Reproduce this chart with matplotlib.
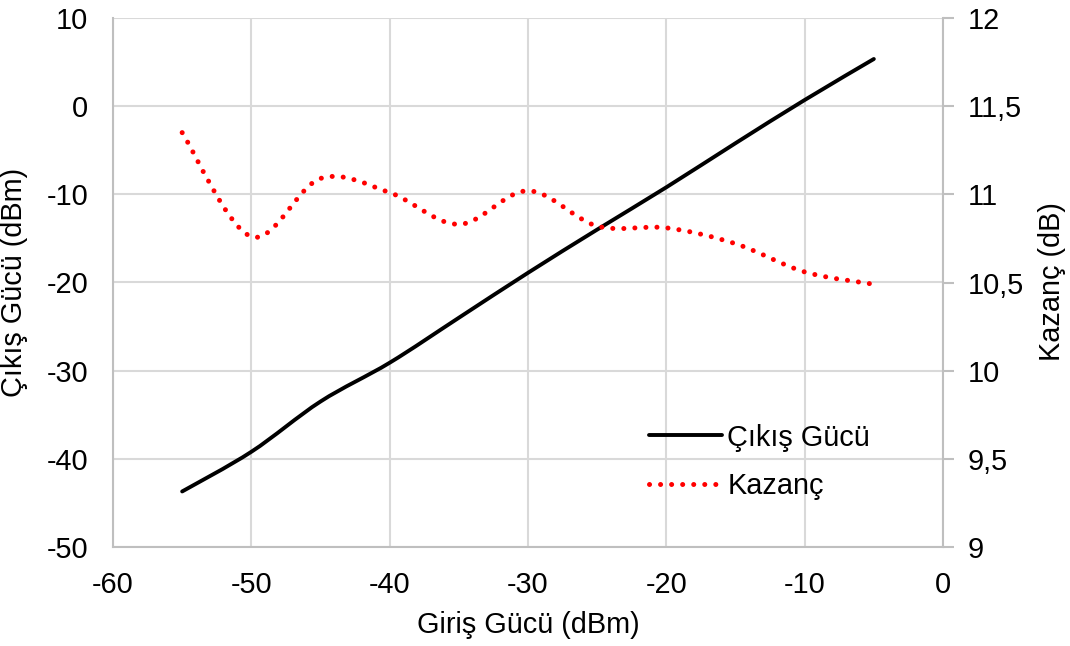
import matplotlib
matplotlib.use("Agg")
import matplotlib.pyplot as plt
from matplotlib.path import Path
from matplotlib.patches import PathPatch
from matplotlib.lines import Line2D
from matplotlib.ticker import FuncFormatter
import numpy as np

plt.rcParams['font.family'] = ['Liberation Sans', 'DejaVu Sans']
plt.rcParams['axes.unicode_minus'] = False

# Input power sweep (dBm)
giris = [-55, -50, -45, -40, -35, -30, -25, -20, -15, -10, -5]
# Output power (dBm)
cikis = [-43.7, -39.2, -33.5, -29.1, -24.0, -18.9, -14.0, -9.2, -4.2, 0.7, 5.35]
# Gain (dB)
kazanc = [11.35, 10.76, 11.09, 11.01, 10.83, 11.02, 10.82, 10.81, 10.72, 10.56, 10.49]

x_ticks = [-60, -50, -40, -30, -20, -10, 0]
left_ticks = [-50, -40, -30, -20, -10, 0, 10]
right_ticks = [9, 9.5, 10, 10.5, 11, 11.5, 12]


def smooth_path(xs, ys):
    """Catmull-Rom style smoothed path built from Bezier segments."""
    pts = np.column_stack([xs, ys]).astype(float)
    n = len(pts)
    verts = [pts[0]]
    codes = [Path.MOVETO]
    for i in range(n - 1):
        p0 = pts[i - 1] if i > 0 else pts[i]
        p1 = pts[i]
        p2 = pts[i + 1]
        p3 = pts[i + 2] if i + 2 < n else pts[i + 1]
        c1 = p1 + (p2 - p0) / 6.0
        c2 = p2 - (p3 - p1) / 6.0
        verts += [c1, c2, p2]
        codes += [Path.CURVE4] * 3
    return Path(verts, codes)


W, H = 1070, 646
fig = plt.figure(figsize=(W / 100, H / 100), dpi=100)
ax = fig.add_axes([113 / W, 1 - 547 / H, (943 - 113) / W, (547 - 18) / H])
ax2 = ax.twinx()

FS = 20.8
grid_c = '#D9D9D9'
spine_c = '#BFBFBF'

ax.set_xlim(-60, 0)
ax.set_ylim(-50, 10)
ax2.set_ylim(9, 12)
ax.set_xticks(x_ticks)
ax.set_yticks(left_ticks)
ax2.set_yticks(right_ticks)
ax2.yaxis.set_major_formatter(FuncFormatter(lambda v, p: (f"{v:g}").replace('.', ',')))

ax.grid(True, color=grid_c, linewidth=1.5)
ax.set_axisbelow(True)
for s in ['top', 'right', 'left', 'bottom']:
    ax.spines[s].set_visible(False)
ax2.spines['top'].set_visible(False)
for s in ['left', 'bottom', 'right']:
    ax2.spines[s].set_visible(True)
    ax2.spines[s].set_color(spine_c)
    ax2.spines[s].set_linewidth(1.5)

ax.tick_params(axis='y', length=0, labelsize=FS, pad=18)
ax.tick_params(axis='x', length=0, labelsize=FS, pad=17)
ax2.tick_params(axis='y', length=8, width=1.5, color=spine_c, labelsize=FS, pad=10)

# Axis titles
fig.text(528 / W, 1 - 625 / H, 'Giriş Gücü (dBm)', fontsize=FS, ha='center', va='center')
fig.text(14 / W, 1 - 282 / H, 'Çıkış Gücü (dBm)', fontsize=FS, ha='center', va='center',
         rotation=90)
fig.text(1052 / W, 1 - 282 / H, 'Kazanç (dB)', fontsize=FS, ha='center', va='center',
         rotation=90)

# Output power curve (left axis)
ax.add_patch(PathPatch(smooth_path(giris, cikis), facecolor='none', edgecolor='black',
                       linewidth=2.8, capstyle='round', joinstyle='round', zorder=3))
# Gain curve (right axis)
ax2.add_patch(PathPatch(smooth_path(giris, kazanc), facecolor='none', edgecolor='#FF0000',
                        linewidth=3.6, linestyle=(0, (0.01, 2.2)), capstyle='round', zorder=3))

handles = [
    Line2D([], [], color='black', linewidth=2.8, solid_capstyle='round'),
    Line2D([], [], color='#FF0000', linewidth=3.6, linestyle=(0, (0.01, 2.2)),
           dash_capstyle='round'),
]
ax2.legend(handles, ['Çıkış Gücü', 'Kazanç'], fontsize=FS, frameon=False,
           loc='lower left', bbox_to_anchor=(0.622, 0.05), handlelength=2.5,
           handletextpad=0.2, labelspacing=0.72, borderpad=0.2)

fig.savefig('out.png', dpi=100)
